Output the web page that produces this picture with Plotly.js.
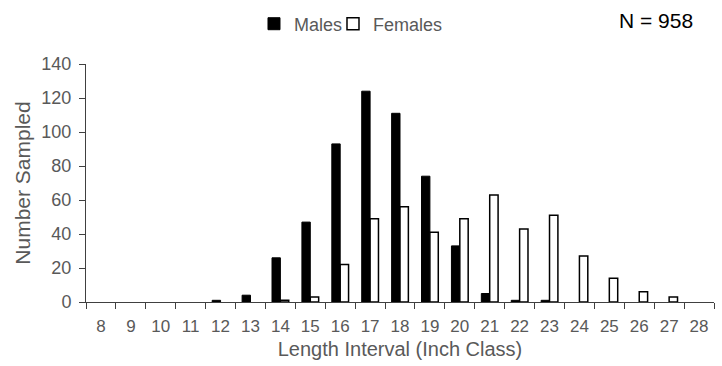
<!DOCTYPE html>
<html>
<head>
<meta charset="utf-8">
<script src="https://cdn.plot.ly/plotly-3.0.1.min.js"></script>
<style>html,body{margin:0;padding:0;background:#fff;}#chart{width:722px;height:366px;}</style>
</head>
<body>
<div id="chart"></div>
<script>
const lengthClasses = ['8','9','10','11','12','13','14','15','16','17','18','19','20','21','22','23','24','25','26','27','28'];
const males   = [0,0,0,0,1,4,26,47,93,124,111,74,33,5,1,1,0,0,0,0,0];
const females = [0,0,0,0,0,0,1,3,22,49,56,41,49,63,43,51,27,14,6,3,0];
const yTicks = [0,20,40,60,80,100,120,140];
const sampleLabel = 'N = 958';

const fontFam = '"Liberation Sans", Arial, sans-serif';
const grey = '#595959';
// empty classes draw no bar (not even an outline on the baseline)
const shown = vals => vals.map(v => v > 0 ? v : null);

const data = [
  {type:'bar', name:'Males', x:lengthClasses, y:shown(males), legend:'legend',
   marker:{color:'#000000', line:{color:'#000000', width:1}}},
  {type:'bar', name:'Females', x:lengthClasses, y:shown(females), legend:'legend2',
   marker:{color:'#ffffff', line:{color:'#000000', width:1.5}}}
];

const legendBase = {orientation:'h', xanchor:'left', y:1.168, yanchor:'middle',
          font:{family:fontFam, size:18, color:grey}, itemwidth:30, bgcolor:'rgba(0,0,0,0)'};

const layout = {
  width:722, height:366,
  margin:{l:86, r:8, t:64, b:64, autoexpand:false},
  paper_bgcolor:'#fff', plot_bgcolor:'#fff',
  font:{family:fontFam, color:grey, size:18},
  barmode:'group', bargap:0.44, bargroupgap:0,
  showlegend:true,
  legend:Object.assign({}, legendBase, {x:0.2675}),
  legend2:Object.assign({}, legendBase, {x:0.3933}),
  xaxis:{type:'category', tickson:'boundaries', ticks:'outside', ticklen:6, tickcolor:'#404040',
         showline:true, linecolor:'#404040', linewidth:1, showgrid:false, zeroline:false,
         tickfont:{size:17, color:grey}, ticklabelstandoff:9,
         title:{text:'Length Interval (Inch Class)', font:{size:20, color:grey}, standoff:6},
         automargin:false},
  yaxis:{range:[0,140], tickvals:yTicks, ticks:'outside', ticklen:6, tickcolor:'#404040',
         showline:true, linecolor:'#404040', linewidth:1, showgrid:false, zeroline:false,
         tickfont:{size:18, color:grey}, ticklabelstandoff:4,
         title:{text:'Number Sampled', font:{size:21, color:grey}, standoff:5},
         automargin:false},
  annotations:[{text:sampleLabel, xref:'paper', yref:'paper', x:0.908, y:1.181,
                xanchor:'center', yanchor:'middle', showarrow:false,
                font:{family:fontFam, size:21, color:'#000000'}}]
};

Plotly.newPlot('chart', data, layout, {displayModeBar:false, staticPlot:true});
</script>
</body>
</html>
